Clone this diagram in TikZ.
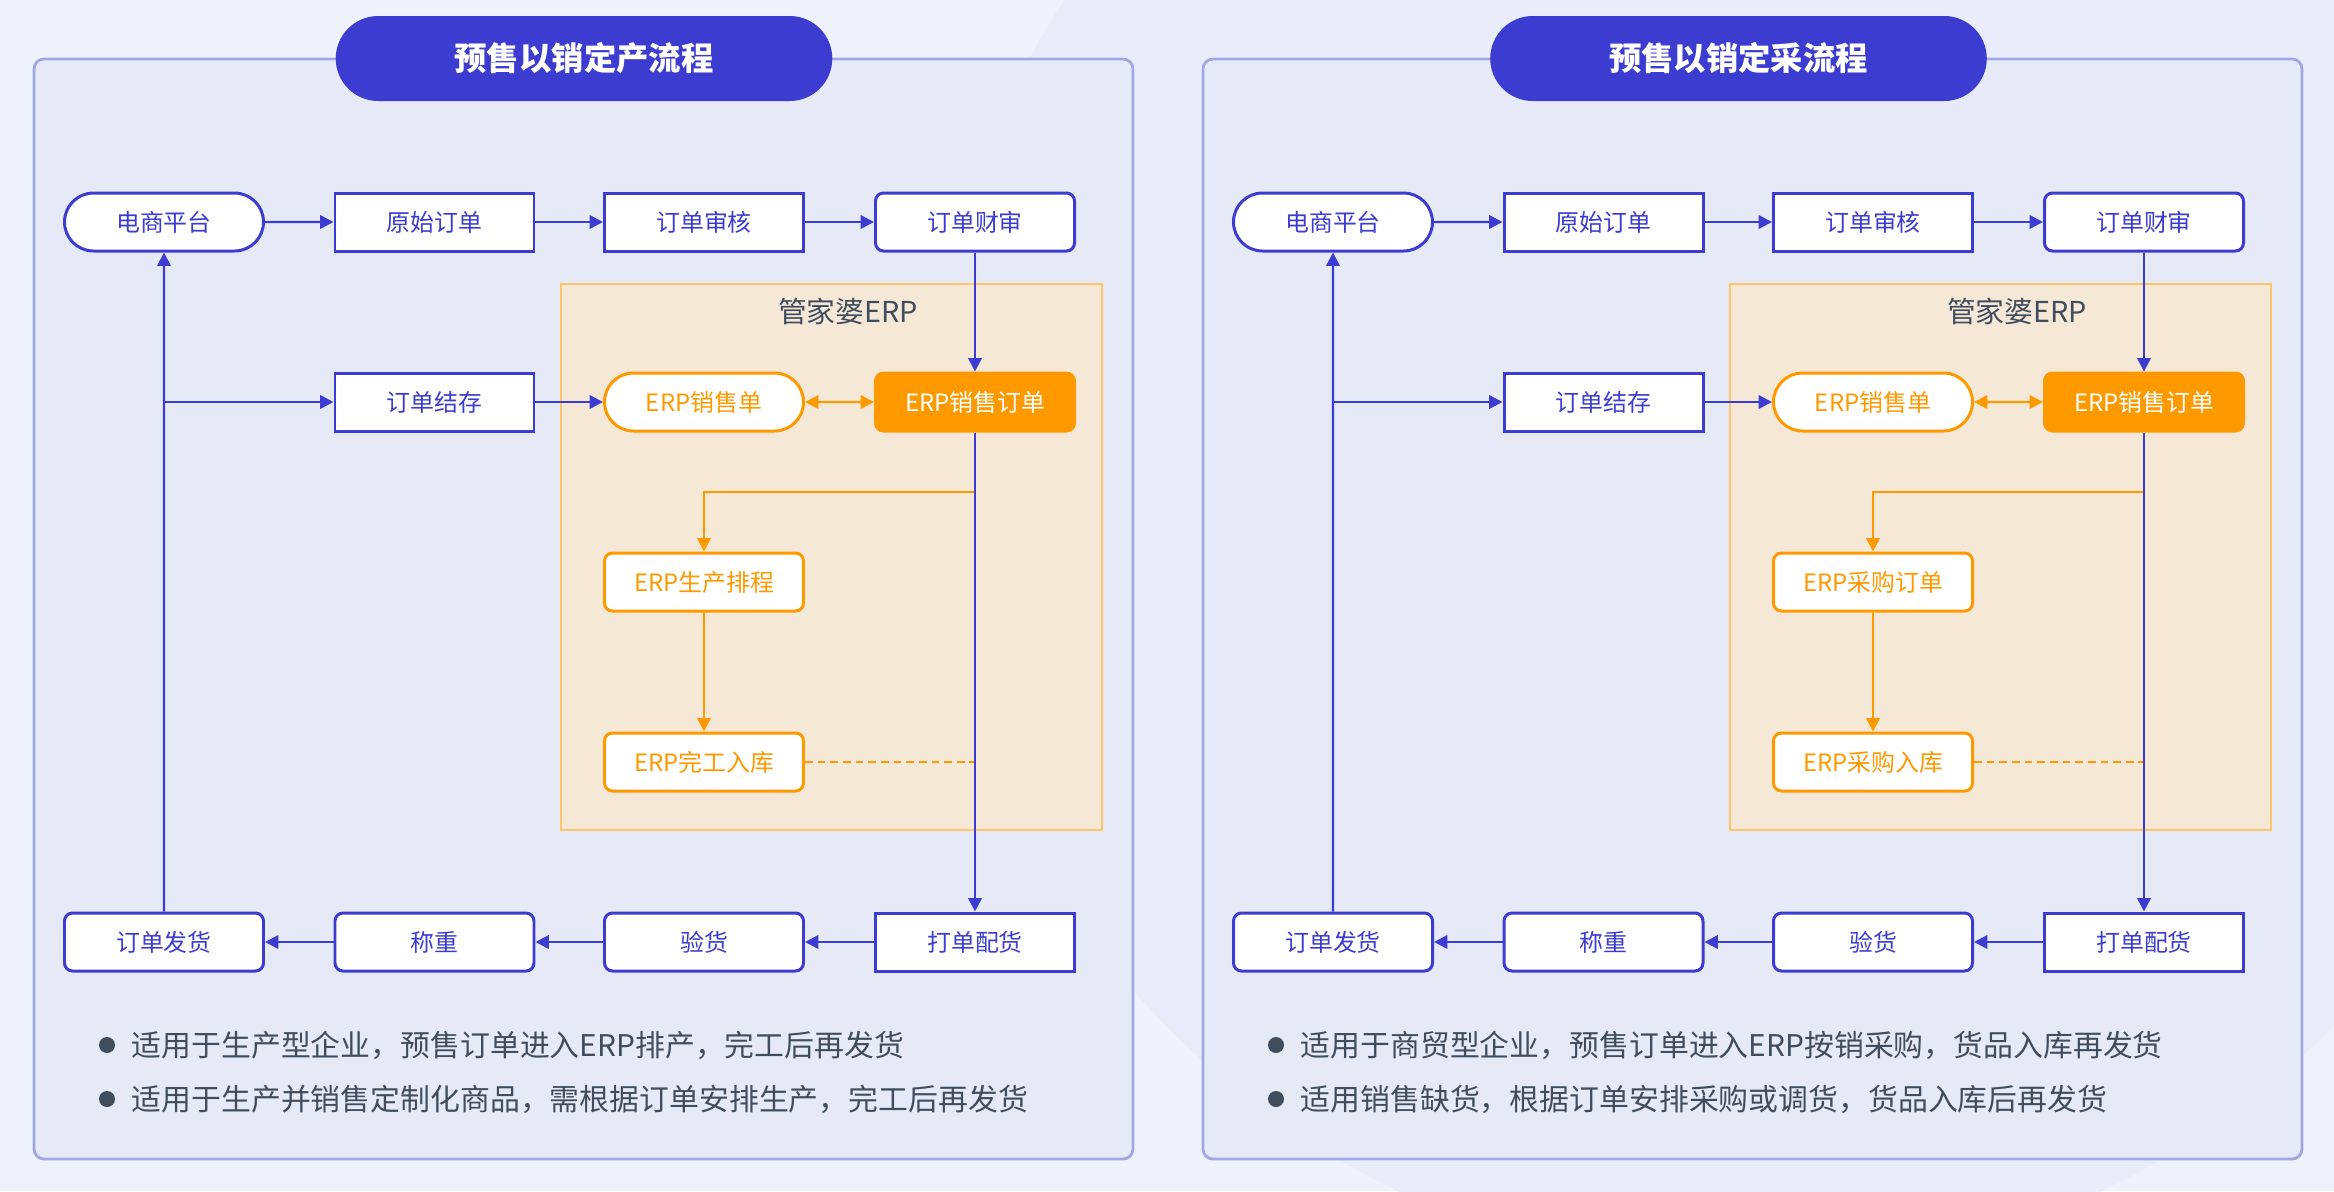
\documentclass[tikz,border=0pt]{standalone}
\usepackage{fontspec}
\setmainfont{Noto Sans CJK SC}
\usetikzlibrary{arrows.meta, shapes.misc}

\definecolor{flowblue}{HTML}{3C3CD0}
\definecolor{erporange}{HTML}{FF9900}
\definecolor{erpfill}{HTML}{F6E8D7}
\definecolor{erpline}{HTML}{FFC46E}
\definecolor{panelfill}{HTML}{E6EAF7}
\definecolor{panelline}{HTML}{A3A6E4}
\definecolor{pagebg}{HTML}{EEF2FB}
\definecolor{bgshade}{HTML}{E9EDF9}
\definecolor{notetext}{HTML}{3F4D5E}

\tikzset{
  box/.style={draw=flowblue, line width=0.85pt, fill=white, text=flowblue,
    minimum width=1.99cm, minimum height=0.58cm, inner sep=0pt,
    font=\fontsize{6.8}{8}\selectfont},
  roundbox/.style={box, rounded corners=0.08cm},
  pillbox/.style={box, rounded rectangle},
  erpbox/.style={roundbox, draw=erporange, text=erporange},
  erppill/.style={pillbox, draw=erporange, text=erporange},
  erpsolid/.style={roundbox, draw=erporange, fill=erporange, text=white},
  flow/.style={flowblue, line width=0.7pt, -{Triangle[length=3.8pt, width=3.8pt]}},
  erpflow/.style={flow, draw=erporange},
  titlepill/.style={rounded rectangle, fill=flowblue, text=white,
    minimum width=5.2cm, minimum height=0.85cm,
    font=\fontsize{9.2}{11}\selectfont\bfseries},
  note/.style={anchor=west, text=notetext, inner sep=0pt,
    font=\fontsize{8.5}{10}\selectfont}
}

\begin{document}
\begin{tikzpicture}
    \useasboundingbox (0,0) rectangle (23.34,-11.91);

    % Page background
    \fill[pagebg] (0,0) rectangle (23.34,-11.91);
    \fill[bgshade] (17.5,-4.5) circle (8.2);

    \foreach \dx/\tx/\pfx/\ttl/\plan/\stock/\notea/\noteb in {
      0/5.84/L/预售以销定产流程/ERP生产排程/ERP完工入库/适用于生产型企业，预售订单进入ERP排产，完工后再发货/适用于生产并销售定制化商品，需根据订单安排生产，完工后再发货,
      11.69/5.695/R/预售以销定采流程/ERP采购订单/ERP采购入库/适用于商贸型企业，预售订单进入ERP按销采购，货品入库再发货/适用销售缺货，根据订单安排采购或调货，货品入库后再发货}{
    \begin{scope}[xshift=\dx cm, name prefix=\pfx-]
    % Panel frame and title
    \draw[panelline, fill=panelfill, line width=0.8pt, rounded corners=0.1cm]
      (0.34,-0.59) rectangle (11.33,-11.59);
    \node[titlepill] (title) at (\tx,-0.585) {\ttl};

    % ERP area
    \draw[erpline, fill=erpfill, line width=0.8pt] (5.61,-2.84) rectangle (11.02,-8.30);
    \node[text=notetext, font=\fontsize{8.2}{10}\selectfont] (erp) at (8.48,-3.11) {管家婆ERP};

    % Top row
    \node[pillbox] (plat) at (1.64,-2.22) {电商平台};
    \node[box] (raw) at (4.345,-2.22) {原始订单};
    \node[box] (audit) at (7.04,-2.22) {订单审核};
    \node[roundbox] (fin) at (9.75,-2.22) {订单财审};

    % Middle rows
    \node[box] (keep) at (4.345,-4.02) {订单结存};
    \node[erppill] (sale) at (7.04,-4.02) {ERP销售单};
    \node[erpsolid] (order) at (9.75,-4.02) {ERP销售订单};
    \node[erpbox] (plan) at (7.04,-5.82) {\plan};
    \node[erpbox] (stock) at (7.04,-7.62) {\stock};

    % Bottom row
    \node[box] (pick) at (9.75,-9.42) {打单配货};
    \node[roundbox] (check) at (7.04,-9.42) {验货};
    \node[roundbox] (weigh) at (4.345,-9.42) {称重};
    \node[roundbox] (ship) at (1.64,-9.42) {订单发货};

    \coordinate (tap) at (1.64,-4.02);
    \coordinate (split) at (9.75,-4.92);
    \coordinate (join) at (9.75,-7.62);

    % Orange links
    \draw[erpflow] (split) -| (plan);
    \draw[erpflow] (plan) -- (stock);
    \draw[erporange, line width=0.7pt, dash pattern=on 2.2pt off 1.4pt] (stock) -- (join);
    \draw[erpflow, {Triangle[length=3.8pt, width=3.8pt]}-{Triangle[length=3.8pt, width=3.8pt]}] (sale) -- (order);

    % Blue links
    \draw[flow] (plat) -- (raw);
    \draw[flow] (raw) -- (audit);
    \draw[flow] (audit) -- (fin);
    \draw[flow] (fin) -- (order);
    \draw[flow] (keep) -- (sale);
    \draw[flow] (order) -- (pick);
    \draw[flow] (pick) -- (check);
    \draw[flow] (check) -- (weigh);
    \draw[flow] (weigh) -- (ship);
    \draw[flow] (ship) -- (plat);
    \draw[flow] (tap) -- (keep);

    % Notes
    \fill[notetext] (1.07,-10.45) circle (0.08);
    \fill[notetext] (1.07,-10.99) circle (0.08);
    \node[note] (notea) at (1.31,-10.45) {\notea};
    \node[note] (noteb) at (1.31,-10.99) {\noteb};
    \end{scope}
    }
\end{tikzpicture}
\end{document}
